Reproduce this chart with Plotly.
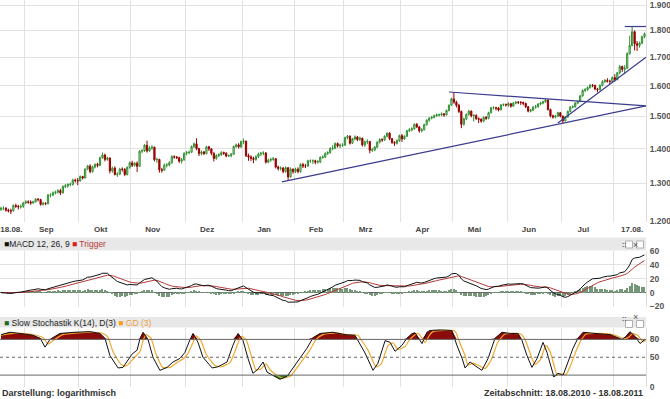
import numpy as np
import pandas as pd
import plotly.graph_objects as go

# ---------------- data ----------------
dates = pd.bdate_range("2010-08-18", "2011-08-17")   # trading days shown

opens = [
1230,1233,1233,1228,1226,1226,1240,1238,1237,1238,
1247,1250,1249,1247,1250,1257,1256,1243,1246,1245,
1268,1268,1274,1276,1280,1274,1291,1293,1297,1297,
1309,1308,
1307,1319,1315,1340,1349,1333,1346,1354,1351,1373,
1381,1368,1372,1335,1343,1325,1326,1340,1339,1325,
1345,
1358,1351,1357,1348,1392,1394,1410,1393,1402,1404,
1367,1368,1338,1337,1352,1352,1358,1376,1375,1373,
1363,1367,
1386,1388,1389,1406,1414,1400,1385,1390,1385,1405,
1399,1386,1371,1379,1382,1388,1386,1378,1379,1383,
1406,1411,1405,
1421,1422,1379,1375,1371,1368,1376,1384,1386,1387,
1360,1366,1368,1370,1346,1342,1343,1333,1344,1318,
1340,
1333,1340,1333,1353,1349,1349,1364,1364,1364,1360,
1361,1374,1375,1385,1388,1400,1401,1415,1408,1410,
1410,1433,1437,1416,1429,1435,1427,1431,1411,1420,
1421,1395,1396,1404,1419,1427,1426,1437,1447,1430,
1418,1416,1424,
1439,1429,1437,1454,1457,1460,1474,1466,1454,1457,
1473,1487,1493,1496,1501,1504,1504,1507,1504,1518,
1535,
1556,1545,1535,1515,1474,1491,1505,1516,1501,1502,
1492,1490,1484,1496,1493,1511,1527,1527,1526,1520,
1536,1537,
1536,1540,1532,1542,1545,1544,1544,1541,1530,1516,
1519,1529,1530,1539,1542,1547,1552,1521,1501,1497,
1500,1511,
1500,1485,1497,1515,1529,1530,1542,1547,1566,1584,
1587,1594,1602,1601,1589,1587,1601,1614,1618,1615,
1615,
1628,1621,1645,1667,1657,1661,1713,1743,1795,1750,
1744,1752,1776,
]

highs = [
1237,1238,1236,1232,1232,1243,1245,1242,1243,1250,
1254,1254,1254,1253,1260,1260,1258,1250,1249,1271,
1273,1278,1280,1284,1285,1295,1298,1300,1302,1313,
1313,1315,
1322,1321,1342,1352,1354,1350,1356,1358,1376,1388,
1385,1376,1374,1347,1348,1331,1344,1345,1343,1348,
1362,
1364,1360,1362,1395,1398,1413,1424,1407,1410,1406,
1373,1370,1344,1356,1357,1363,1380,1380,1378,1376,
1372,1389,
1393,1394,1409,1418,1431,1402,1394,1393,1408,1408,
1401,1389,1383,1386,1392,1391,1389,1382,1387,1409,
1415,1416,1424,
1430,1424,1385,1380,1376,1380,1388,1390,1392,1389,
1370,1373,1375,1372,1350,1348,1346,1348,1346,1345,
1342,
1344,1345,1357,1358,1355,1367,1368,1368,1367,1366,
1377,1380,1389,1392,1404,1410,1418,1418,1415,1416,
1436,1441,1440,1432,1440,1438,1436,1433,1424,1428,
1423,1402,1408,1422,1431,1431,1440,1448,1449,1432,
1422,1428,1442,
1444,1440,1457,1462,1465,1477,1478,1469,1462,1476,
1490,1497,1500,1505,1508,1508,1512,1510,1521,1538,
1560,
1577,1550,1540,1518,1495,1509,1520,1518,1506,1506,
1496,1493,1499,1500,1514,1530,1532,1530,1529,1539,
1541,1541,
1545,1543,1546,1549,1549,1549,1547,1544,1532,1523,
1532,1536,1542,1546,1550,1556,1554,1524,1505,1504,
1514,1513,
1502,1500,1518,1532,1535,1545,1550,1569,1588,1592,
1598,1606,1606,1604,1593,1605,1619,1623,1626,1621,
1632,
1640,1648,1672,1670,1672,1718,1780,1813,1800,1760,
1758,1780,1792,
]

lows = [
1226,1228,1224,1222,1218,1224,1234,1230,1232,1234,
1244,1245,1242,1245,1248,1251,1240,1240,1241,1243,
1262,1265,1270,1272,1268,1272,1287,1288,1292,1294,
1302,1295,
1305,1311,1314,1337,1328,1330,1342,1345,1348,1370,
1362,1364,1328,1330,1322,1318,1323,1333,1320,1322,
1341,
1346,1347,1332,1346,1386,1390,1388,1390,1396,1362,
1358,1330,1330,1335,1345,1348,1356,1370,1369,1358,
1356,1364,
1380,1383,1387,1402,1395,1378,1380,1381,1383,1393,
1380,1362,1367,1375,1378,1381,1374,1375,1374,1381,
1402,1400,1402,
1413,1375,1364,1363,1357,1364,1372,1378,1380,1356,
1357,1361,1364,1342,1336,1336,1328,1330,1309,1316,
1327,
1329,1328,1330,1343,1343,1346,1358,1355,1354,1356,
1357,1370,1372,1381,1385,1395,1398,1403,1401,1405,
1408,1428,1412,1414,1425,1422,1423,1406,1405,1413,
1386,1390,1392,1401,1415,1420,1423,1434,1425,1414,
1408,1412,1420,
1420,1426,1435,1450,1452,1457,1462,1448,1449,1455,
1470,1482,1490,1493,1498,1499,1500,1498,1502,1515,
1533,
1540,1528,1510,1462,1470,1487,1502,1496,1483,1488,
1478,1479,1481,1488,1490,1508,1521,1518,1515,1518,
1532,1531,
1530,1527,1530,1538,1539,1536,1535,1526,1512,1512,
1516,1524,1527,1535,1538,1543,1518,1496,1492,1493,
1497,1496,
1478,1483,1495,1512,1525,1527,1538,1545,1563,1578,
1583,1590,1595,1585,1578,1584,1598,1610,1611,1605,
1611,
1614,1618,1640,1648,1640,1658,1710,1740,1725,1723,
1735,1748,1770,
]

closes = [
1233,1233,1228,1226,1226,1240,1238,1237,1238,1247,
1250,1249,1247,1250,1257,1256,1243,1246,1245,1268,
1268,1274,1276,1280,1274,1291,1293,1297,1297,1309,
1308,1307,
1319,1315,1340,1349,1333,1346,1354,1351,1373,1381,
1368,1372,1335,1343,1325,1326,1340,1339,1325,1345,
1358,
1351,1357,1348,1392,1394,1410,1393,1402,1404,1367,
1368,1338,1337,1352,1352,1358,1376,1375,1373,1363,
1367,1386,
1388,1389,1406,1414,1400,1385,1390,1385,1405,1399,
1386,1371,1379,1382,1388,1386,1378,1379,1383,1406,
1411,1405,1421,
1422,1379,1375,1371,1368,1376,1384,1386,1387,1360,
1366,1368,1370,1346,1342,1343,1333,1344,1318,1340,
1333,
1340,1333,1353,1349,1349,1364,1364,1364,1360,1361,
1374,1375,1385,1388,1400,1401,1415,1408,1410,1410,
1433,1437,1416,1429,1435,1427,1431,1411,1420,1421,
1395,1396,1404,1419,1427,1426,1437,1447,1430,1418,
1416,1424,1439,
1429,1437,1454,1457,1460,1474,1466,1454,1457,1473,
1487,1493,1496,1501,1504,1504,1507,1504,1518,1535,
1556,
1545,1535,1515,1474,1491,1505,1516,1501,1502,1492,
1490,1484,1496,1493,1511,1527,1527,1526,1520,1536,
1537,1536,
1540,1532,1542,1545,1544,1544,1541,1530,1516,1519,
1529,1530,1539,1542,1547,1552,1521,1501,1497,1500,
1511,1500,
1485,1497,1515,1529,1530,1542,1547,1566,1584,1587,
1594,1602,1601,1589,1587,1601,1614,1618,1615,1615,
1628,
1621,1645,1667,1657,1661,1713,1743,1795,1750,1744,
1752,1776,1787,
]

# Slow stochastic K(14) line and its GD(3)
stoch_k_x = [0, 3.6, 7.7, 12.9, 15.8, 17.8, 19.8, 23.8, 29.9, 36, 40, 42, 44, 47.3, 49.3,
             52.9, 55, 56.2, 57.4, 59.4, 61.4, 64.2, 67.1, 69.5, 72.3, 74.3, 76.4, 77.6,
             79.6, 81.6, 85.3, 87.7, 91.3, 93.7, 95.8, 97.8, 99.8, 101.8, 103.8, 105.9,
             107.5, 109.5, 112.7, 115.6, 118, 120.8, 123.6, 126.1, 128.9, 134.1, 139, 143,
             144.2, 147.1, 150.3, 152.3, 155.2, 157.2, 159.2, 162, 164, 166.1, 167.3, 169.3,
             170.1, 172.1, 173.3, 177.4, 182.2, 184.2, 186.3, 187.5, 189.5, 191.5, 194.3,
             196.8, 199.6, 202.4, 205.7, 208.9, 210.5, 212.5, 214.5, 216.6, 219, 220.6,
             222.2, 223.4, 225, 227.1, 229.1, 231.1, 233.1, 235.2, 240, 246.1, 250.9, 252.5,
             254.1, 256.2, 258.2, 260.2]
stoch_k = [88, 92, 90, 87, 82, 67, 80, 90, 92, 93, 90, 82, 53, 32, 33,
           55, 62, 82, 92, 80, 50, 28, 33, 42, 48, 58, 80, 90,
           75, 50, 32, 34, 42, 70, 90, 78, 48, 23, 30, 42,
           25, 20, 13, 18, 32, 48, 65, 83, 90, 92, 88, 87,
           78, 57, 28, 40, 78, 75, 60, 70, 82, 90, 91, 78,
           73, 92, 95, 96, 95, 70, 48, 32, 42, 36, 28,
           48, 82, 92, 90, 90, 78, 53, 33, 48, 75, 58,
           32, 17, 23, 20, 42, 65, 82, 92, 90, 88, 80, 85,
           93, 85, 73, 80]
stoch_d_x = [0, 4.8, 8.9, 14.1, 17, 19, 21, 25, 31.1, 37.2, 41.2, 43.2, 45.2, 48.5, 50.5,
             54.1, 56.2, 57.4, 58.6, 60.6, 62.6, 65.4, 68.3, 70.7, 73.5, 75.5, 77.6, 78.8,
             80.8, 82.8, 86.5, 88.9, 92.5, 94.9, 97, 99, 101, 103, 105, 107.1,
             108.7, 110.7, 113.9, 116.8, 119.2, 122, 124.8, 127.3, 130.1, 135.3, 140.2, 144.2,
             145.4, 148.3, 151.5, 153.5, 156.4, 158.4, 160.4, 163.2, 165.2, 167.3, 168.5, 170.5,
             171.3, 173.3, 174.5, 178.6, 183.4, 185.4, 187.5, 188.7, 190.7, 192.7, 195.5,
             198, 200.8, 203.6, 206.9, 210.1, 211.7, 213.7, 215.7, 217.8, 220.2, 221.8,
             223.4, 224.6, 226.2, 228.3, 230.3, 232.3, 234.3, 236.4, 241.2, 247.3, 252.1, 253.7,
             255.3, 257.4, 259.4, 260.6]
stoch_d = [87, 90, 90, 87, 83, 72, 78, 88, 91, 92, 90, 84, 60, 38, 35,
           50, 60, 78, 88, 82, 56, 33, 33, 40, 47, 56, 75, 86,
           78, 56, 36, 34, 41, 64, 85, 80, 54, 29, 30, 39,
           29, 22, 15, 18, 30, 46, 62, 80, 88, 91, 88, 87,
           80, 62, 34, 38, 70, 74, 63, 68, 80, 88, 90, 80,
           75, 88, 93, 95, 94, 74, 53, 37, 40, 37, 31,
           45, 76, 89, 90, 89, 80, 58, 38, 45, 70, 60,
           37, 21, 22, 21, 38, 60, 78, 89, 90, 88, 81, 84,
           90, 86, 76, 79]

# trend lines drawn on the chart: (trading-day index, price)
trend_long_x, trend_long_p = [113.5, 260.6], [1304, 1533]
trend_down_x, trend_down_p = [181.0, 260.6], [1579, 1533]
trend_steep_x, trend_steep_p = [225.0, 260.6], [1478, 1700]
trend_top_x, trend_top_p = [252.0, 260.6], [1815, 1815]

month_labels = ["Sep", "Okt", "Nov", "Dez", "Jan", "Feb", "Mrz", "Apr", "Mai", "Jun", "Jul"]
first_label, last_label = "18.08.", "17.08."
price_ticks = [1200, 1300, 1400, 1500, 1600, 1700, 1800, 1900]
price_ticktext = ["1.200", "1.300", "1.400", "1.500", "1.600", "1.700", "1.800", "1.900"]
macd_ticks = [-20, 0, 20, 40, 60]
stoch_ticks = [0, 50, 80]

# ---------------- derived ----------------
n = len(dates)
idx = np.arange(n)
months = dates.month
month_starts = [i for i in range(1, n) if months[i] != months[i - 1]]
grid_x = [m - 0.5 for m in month_starts]
label_x = [4.2] + [m + 8.3 for m in month_starts[:-1]] + [n - 6.0]
label_text = [first_label] + month_labels + [last_label]

c = pd.Series(closes, dtype=float)
ema12 = c.ewm(span=12, adjust=False).mean()
ema26 = c.ewm(span=26, adjust=False).mean()
macd = ema12 - ema26
trigger = macd.ewm(span=9, adjust=False).mean()
hist = macd - trigger

# ---------------- figure ----------------
W, H = 670, 399
PW = 646
def py(px):
    return 1 - px / H

XR = [-0.4, 260.6]
GRID = "#e2e2e2"
TRND = "#3b3b8f"
FONT = "Liberation Sans, Arial, sans-serif"

fig = go.Figure()
fig.add_trace(go.Candlestick(
    x=idx, open=opens, high=highs, low=lows, close=closes,
    increasing=dict(line=dict(color="#2f8f2f", width=1), fillcolor="#e4f4e4"),
    decreasing=dict(line=dict(color="#990000", width=1), fillcolor="#990000"),
    whiskerwidth=0, xaxis="x", yaxis="y", showlegend=False, hoverinfo="skip"))
for tx, tp in [(trend_long_x, trend_long_p), (trend_down_x, trend_down_p),
               (trend_steep_x, trend_steep_p), (trend_top_x, trend_top_p)]:
    fig.add_trace(go.Scatter(x=tx, y=tp, mode="lines", line=dict(color=TRND, width=1.2),
                             xaxis="x", yaxis="y", showlegend=False, hoverinfo="skip"))

# MACD
fig.add_trace(go.Bar(x=idx, y=hist, marker=dict(color="#76967a", line=dict(width=0)),
                     width=0.5, xaxis="x2", yaxis="y2", showlegend=False, hoverinfo="skip"))
fig.add_trace(go.Scatter(x=idx, y=trigger, mode="lines", line=dict(color="#b83838", width=1),
                         xaxis="x2", yaxis="y2", showlegend=False, hoverinfo="skip"))
fig.add_trace(go.Scatter(x=idx, y=macd, mode="lines", line=dict(color="#111111", width=1),
                         xaxis="x2", yaxis="y2", showlegend=False, hoverinfo="skip"))

# Stochastic
kx = list(stoch_k_x)
upper = [max(v, 80) for v in stoch_k]
lower = [min(v, 20) for v in stoch_k]
fig.add_trace(go.Scatter(x=kx, y=[80] * len(kx), mode="lines", line=dict(width=0),
                         xaxis="x3", yaxis="y3", showlegend=False, hoverinfo="skip"))
fig.add_trace(go.Scatter(x=kx, y=upper, mode="lines", line=dict(width=0), fill="tonexty",
                         fillcolor="#8b0a0a", xaxis="x3", yaxis="y3", showlegend=False, hoverinfo="skip"))
fig.add_trace(go.Scatter(x=kx, y=[20] * len(kx), mode="lines", line=dict(width=0),
                         xaxis="x3", yaxis="y3", showlegend=False, hoverinfo="skip"))
fig.add_trace(go.Scatter(x=kx, y=lower, mode="lines", line=dict(width=0), fill="tonexty",
                         fillcolor="#2e7d2e", xaxis="x3", yaxis="y3", showlegend=False, hoverinfo="skip"))
fig.add_trace(go.Scatter(x=stoch_d_x, y=stoch_d, mode="lines",
                         line=dict(color="#f0a830", width=1.2, shape="spline", smoothing=0.5),
                         xaxis="x3", yaxis="y3", showlegend=False, hoverinfo="skip"))
fig.add_trace(go.Scatter(x=kx, y=stoch_k, mode="lines",
                         line=dict(color="#111111", width=1),
                         xaxis="x3", yaxis="y3", showlegend=False, hoverinfo="skip"))

tickfont_y = dict(family=FONT, size=8.5, color="#555555", weight="bold")
common_x = dict(range=XR, showline=False, zeroline=False, fixedrange=True)
ycommon = dict(side="right", tickmode="array", ticks="", ticklen=0, ticklabelstandoff=1,
               tickfont=tickfont_y, ticklabeloverflow="allow", showline=True,
               linecolor="#dcdcdc", linewidth=1, fixedrange=True)

fig.update_layout(
    width=W, height=H, margin=dict(l=0, r=W - PW, t=0, b=0, autoexpand=False),
    paper_bgcolor="white", plot_bgcolor="white", showlegend=False, bargap=0,
    xaxis=dict(**common_x, domain=[0, 1], anchor="y", rangeslider=dict(visible=False),
               tickmode="array", tickvals=label_x, ticktext=label_text, showgrid=False,
               ticks="", ticklen=0, ticklabelstandoff=1, ticklabeloverflow="allow",
               tickfont=dict(family=FONT, size=8, color="#444444", weight="bold"),
               minor=dict(tickmode="array", tickvals=grid_x, showgrid=True,
                          gridcolor=GRID, gridwidth=1.3, ticks="")),
    yaxis=dict(**ycommon, domain=[py(222), 1], anchor="x", type="log",
               range=[np.log10(1200) - 1 / 1082, np.log10(1900) + 5 / 1082],
               tickvals=price_ticks, ticktext=price_ticktext,
               showgrid=True, gridcolor=GRID, gridwidth=1.3, zeroline=False),
    xaxis2=dict(**common_x, domain=[0, 1], anchor="y2", tickmode="array", tickvals=grid_x,
                showticklabels=False, showgrid=True, gridcolor=GRID, gridwidth=1.3, ticks=""),
    yaxis2=dict(**ycommon, domain=[py(306.5), py(251)], anchor="x2", range=[-20, 60],
                tickvals=macd_ticks, showgrid=True, gridcolor=GRID, gridwidth=1.3,
                zeroline=True, zerolinecolor="#666666", zerolinewidth=1),
    xaxis3=dict(**common_x, domain=[0, 1], anchor="y3", tickmode="array", tickvals=grid_x,
                showticklabels=False, showgrid=True, gridcolor=GRID, gridwidth=1.3, ticks=""),
    yaxis3=dict(**ycommon, domain=[py(387), py(327.5)], anchor="x3", range=[0, 100],
                tickvals=stoch_ticks, showgrid=False, zeroline=False),
)

shapes = []
# panel header bands
for top, bot in [(237.5, 250.5), (317, 327.5)]:
    shapes.append(dict(type="rect", xref="paper", yref="paper", x0=0, x1=1,
                       y0=py(bot), y1=py(top), fillcolor="#e8e8e8", line=dict(width=0), layer="below"))
    for bx0 in [625.5, 636.5]:
        shapes.append(dict(type="rect", xref="paper", yref="paper", x0=bx0 / PW, x1=(bx0 + 7) / PW,
                           y0=py(top + 10.5), y1=py(top + 3.5), fillcolor="white",
                           line=dict(color="#b0b0b0", width=1)))
# stochastic reference lines
for lvl, dash in [(80, "solid"), (20, "solid"), (50, "dot")]:
    shapes.append(dict(type="line", xref="x3 domain", yref="y3", x0=0, x1=1, y0=lvl, y1=lvl,
                       line=dict(color="#666666", width=1, dash=dash)))
fig.update_layout(shapes=shapes)

hdr_font = dict(family=FONT, size=8.5, color="#222222")
ann = [
    dict(x=2 / PW, y=py(244.3), xref="paper", yref="paper", xanchor="left", yanchor="middle",
         showarrow=False, font=hdr_font,
         text="<span style='color:#111'>■</span>MACD 12, 26, 9 <span style='color:#e01818'>■</span> "
              "<span style='color:#b83838'>Trigger</span>"),
    dict(x=2 / PW, y=py(322.7), xref="paper", yref="paper", xanchor="left", yanchor="middle",
         showarrow=False, font=hdr_font,
         text="<span style='color:#1f6a1f'>■</span> Slow Stochastik K(14), D(3) "
              "<span style='color:#f5a020'>■</span> <span style='color:#e8a040'>GD (3)</span>"),
    dict(x=0, y=py(393), xref="paper", yref="paper", xanchor="left", yanchor="middle",
         showarrow=False, font=dict(family=FONT, size=9, color="#333333", weight="bold"),
         text="Darstellung: logarithmisch"),
    dict(x=645 / PW, y=py(393), xref="paper", yref="paper", xanchor="right", yanchor="middle",
         showarrow=False, font=dict(family=FONT, size=9, color="#333333", weight="bold"),
         text="Zeitabschnitt: 18.08.2010 - 18.08.2011"),
]
for top in [237.5, 317]:
    ann.append(dict(x=629 / PW, y=py(top + 7), xref="paper", yref="paper", showarrow=False,
                    text="::", font=dict(family=FONT, size=7, color="#555555", weight="bold")))
    ann.append(dict(x=640 / PW, y=py(top + 7), xref="paper", yref="paper", showarrow=False,
                    text="×", font=dict(family=FONT, size=9, color="#555555")))
fig.update_layout(annotations=ann)

fig.write_html("out.html", config={"displayModeBar": False},
               post_script="document.body.style.margin='0px';document.body.style.overflow='hidden';")
